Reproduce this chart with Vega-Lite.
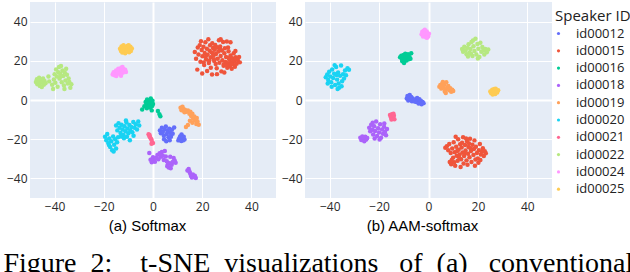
{
"$schema": "https://vega.github.io/schema/vega-lite/v6.json",
"padding": {"left": 3, "top": 2, "right": 0, "bottom": 0},
"background": "#ffffff",
"spacing": 5,
"title": {"text": "Figure\u00a0 2:\u00a0\u00a0\u00a0 t-SNE\u00a0 visualizations\u00a0\u00a0 of\u00a0 (a)\u00a0\u00a0 conventional", "orient": "bottom", "anchor": "start", "font": "Liberation Serif", "fontSize": 28, "fontWeight": "normal", "color": "#000000", "offset": 17, "frame": "bounds", "dx": -3},
"datasets": {
"a": [
{"id":"id00012","x":2.8,"y":-15.5},{"id":"id00012","x":3.2,"y":-17.0},{"id":"id00012","x":3.6,"y":-14.2},{"id":"id00012","x":4.0,"y":-16.3},{"id":"id00012","x":4.4,"y":-18.2},{"id":"id00012","x":4.8,"y":-15.0},{"id":"id00012","x":5.2,"y":-13.5},{"id":"id00012","x":5.6,"y":-17.4},{"id":"id00012","x":6.0,"y":-15.8},{"id":"id00012","x":6.3,"y":-19.0},{"id":"id00012","x":6.6,"y":-14.6},{"id":"id00012","x":7.0,"y":-16.8},{"id":"id00012","x":7.3,"y":-18.8},{"id":"id00012","x":7.7,"y":-15.2},{"id":"id00012","x":8.0,"y":-17.2},{"id":"id00012","x":5.4,"y":-21.0},{"id":"id00012","x":6.8,"y":-20.5},{"id":"id00012","x":8.6,"y":-14.0},{"id":"id00012","x":4.5,"y":-20.0},{"id":"id00012","x":10.6,"y":-19.8},{"id":"id00012","x":11.0,"y":-18.6},{"id":"id00012","x":11.3,"y":-20.4},{"id":"id00012","x":11.6,"y":-17.6},{"id":"id00012","x":11.9,"y":-19.4},{"id":"id00012","x":12.2,"y":-20.6},{"id":"id00012","x":12.5,"y":-18.8},{"id":"id00012","x":12.8,"y":-20.2},{"id":"id00012","x":10.3,"y":-20.6},{"id":"id00012","x":11.5,"y":-20.9},
{"id":"id00015","x":17.0,"y":24.5},{"id":"id00015","x":17.5,"y":21.0},{"id":"id00015","x":18.2,"y":26.8},{"id":"id00015","x":18.5,"y":23.2},{"id":"id00015","x":19.0,"y":28.0},{"id":"id00015","x":19.3,"y":19.5},{"id":"id00015","x":19.8,"y":25.5},{"id":"id00015","x":20.1,"y":22.3},{"id":"id00015","x":20.5,"y":27.2},{"id":"id00015","x":20.8,"y":17.8},{"id":"id00015","x":21.0,"y":24.0},{"id":"id00015","x":21.3,"y":29.5},{"id":"id00015","x":21.6,"y":20.6},{"id":"id00015","x":21.9,"y":26.2},{"id":"id00015","x":22.2,"y":23.1},{"id":"id00015","x":22.5,"y":31.0},{"id":"id00015","x":22.7,"y":18.9},{"id":"id00015","x":23.0,"y":25.1},{"id":"id00015","x":23.2,"y":27.9},{"id":"id00015","x":23.5,"y":21.8},{"id":"id00015","x":23.8,"y":24.3},{"id":"id00015","x":24.0,"y":13.0},{"id":"id00015","x":24.1,"y":29.0},{"id":"id00015","x":24.4,"y":26.5},{"id":"id00015","x":24.6,"y":22.7},{"id":"id00015","x":24.9,"y":19.9},{"id":"id00015","x":25.1,"y":25.6},{"id":"id00015","x":25.3,"y":28.1},{"id":"id00015","x":25.6,"y":23.5},{"id":"id00015","x":25.9,"y":16.2},{"id":"id00015","x":26.1,"y":26.9},{"id":"id00015","x":26.3,"y":21.0},{"id":"id00015","x":26.6,"y":24.7},{"id":"id00015","x":26.8,"y":30.5},{"id":"id00015","x":27.0,"y":19.0},{"id":"id00015","x":27.3,"y":27.3},{"id":"id00015","x":27.5,"y":22.5},{"id":"id00015","x":27.8,"y":14.6},{"id":"id00015","x":28.0,"y":25.2},{"id":"id00015","x":28.2,"y":20.3},{"id":"id00015","x":28.5,"y":29.6},{"id":"id00015","x":28.7,"y":17.5},{"id":"id00015","x":29.0,"y":23.8},{"id":"id00015","x":29.2,"y":26.4},{"id":"id00015","x":29.5,"y":19.4},{"id":"id00015","x":29.7,"y":21.9},{"id":"id00015","x":30.0,"y":29.8},{"id":"id00015","x":30.2,"y":16.4},{"id":"id00015","x":30.4,"y":18.7},{"id":"id00015","x":30.7,"y":24.9},{"id":"id00015","x":31.0,"y":20.5},{"id":"id00015","x":31.2,"y":17.2},{"id":"id00015","x":31.5,"y":22.7},{"id":"id00015","x":31.7,"y":19.0},{"id":"id00015","x":32.0,"y":16.0},{"id":"id00015","x":32.2,"y":21.3},{"id":"id00015","x":32.5,"y":18.2},{"id":"id00015","x":32.8,"y":23.9},{"id":"id00015","x":33.0,"y":19.8},{"id":"id00015","x":33.3,"y":17.0},{"id":"id00015","x":33.6,"y":21.8},{"id":"id00015","x":34.0,"y":18.5},{"id":"id00015","x":34.5,"y":20.4},{"id":"id00015","x":35.0,"y":22.0},{"id":"id00015","x":35.3,"y":19.2},{"id":"id00015","x":20.0,"y":13.5},{"id":"id00015","x":18.0,"y":15.5},{"id":"id00015","x":22.0,"y":14.8},{"id":"id00015","x":26.0,"y":13.2},{"id":"id00015","x":29.0,"y":14.0},{"id":"id00015","x":23.5,"y":16.5},{"id":"id00015","x":27.5,"y":31.0},{"id":"id00015","x":31.5,"y":29.5},{"id":"id00015","x":19.5,"y":30.0},{"id":"id00015","x":24.8,"y":20.8},{"id":"id00015","x":30.5,"y":26.8},{"id":"id00015","x":33.5,"y":25.0},{"id":"id00015","x":21.4,"y":22.0},{"id":"id00015","x":28.8,"y":18.3},{"id":"id00015","x":32.6,"y":20.0},{"id":"id00015","x":31.8,"y":18.3},{"id":"id00015","x":30.9,"y":21.4},{"id":"id00015","x":33.8,"y":20.8},{"id":"id00015","x":29.8,"y":17.8},{"id":"id00015","x":25.5,"y":18.4},{"id":"id00015","x":22.9,"y":20.2},{"id":"id00015","x":27.2,"y":25.9},{"id":"id00015","x":24.3,"y":23.9},{"id":"id00015","x":20.6,"y":19.2},
{"id":"id00016","x":-3.0,"y":-1.0},{"id":"id00016","x":-2.7,"y":-2.8},{"id":"id00016","x":-2.4,"y":0.3},{"id":"id00016","x":-2.1,"y":-1.8},{"id":"id00016","x":-1.8,"y":-3.4},{"id":"id00016","x":-1.5,"y":-0.6},{"id":"id00016","x":-1.2,"y":-2.4},{"id":"id00016","x":-0.9,"y":0.8},{"id":"id00016","x":-0.6,"y":-1.4},{"id":"id00016","x":-0.3,"y":-3.0},{"id":"id00016","x":0.0,"y":-2.0},{"id":"id00016","x":-2.5,"y":-4.2},{"id":"id00016","x":-1.0,"y":-4.0},{"id":"id00016","x":-3.5,"y":-3.2},{"id":"id00016","x":-4.4,"y":-4.8},{"id":"id00016","x":-0.5,"y":-5.3},{"id":"id00016","x":2.0,"y":-5.6},{"id":"id00016","x":2.6,"y":-7.2},{"id":"id00016","x":3.0,"y":-8.3},{"id":"id00016","x":-1.6,"y":-1.2},{"id":"id00016","x":-0.2,"y":-0.4},
{"id":"id00018","x":-1.5,"y":-27.0},{"id":"id00018","x":-1.0,"y":-30.5},{"id":"id00018","x":-0.5,"y":-31.8},{"id":"id00018","x":0.0,"y":-29.2},{"id":"id00018","x":0.3,"y":-30.8},{"id":"id00018","x":0.8,"y":-31.5},{"id":"id00018","x":1.2,"y":-29.6},{"id":"id00018","x":1.8,"y":-28.0},{"id":"id00018","x":2.2,"y":-30.2},{"id":"id00018","x":2.7,"y":-27.2},{"id":"id00018","x":3.2,"y":-29.0},{"id":"id00018","x":3.6,"y":-26.5},{"id":"id00018","x":4.0,"y":-28.4},{"id":"id00018","x":4.4,"y":-30.6},{"id":"id00018","x":4.8,"y":-26.0},{"id":"id00018","x":5.2,"y":-28.8},{"id":"id00018","x":5.6,"y":-31.2},{"id":"id00018","x":6.0,"y":-33.0},{"id":"id00018","x":6.4,"y":-34.4},{"id":"id00018","x":6.8,"y":-32.2},{"id":"id00018","x":7.2,"y":-34.8},{"id":"id00018","x":7.6,"y":-33.0},{"id":"id00018","x":8.0,"y":-31.6},{"id":"id00018","x":8.4,"y":-29.6},{"id":"id00018","x":8.8,"y":-30.8},{"id":"id00018","x":9.2,"y":-32.0},{"id":"id00018","x":7.0,"y":-29.0},{"id":"id00018","x":5.8,"y":-33.8},{"id":"id00018","x":14.0,"y":-36.0},{"id":"id00018","x":14.5,"y":-35.2},{"id":"id00018","x":15.0,"y":-37.2},{"id":"id00018","x":15.4,"y":-38.6},{"id":"id00018","x":15.8,"y":-39.6},{"id":"id00018","x":16.2,"y":-38.0},{"id":"id00018","x":16.6,"y":-39.2},{"id":"id00018","x":17.0,"y":-38.6},{"id":"id00018","x":17.4,"y":-39.8},{"id":"id00018","x":14.8,"y":-36.4},
{"id":"id00019","x":11.2,"y":-4.0},{"id":"id00019","x":11.6,"y":-5.2},{"id":"id00019","x":12.0,"y":-3.5},{"id":"id00019","x":12.3,"y":-4.6},{"id":"id00019","x":12.8,"y":-6.2},{"id":"id00019","x":13.6,"y":-6.0},{"id":"id00019","x":14.2,"y":-5.4},{"id":"id00019","x":14.8,"y":-7.0},{"id":"id00019","x":15.2,"y":-6.0},{"id":"id00019","x":15.5,"y":-8.2},{"id":"id00019","x":16.0,"y":-7.0},{"id":"id00019","x":16.3,"y":-9.6},{"id":"id00019","x":16.8,"y":-8.4},{"id":"id00019","x":17.2,"y":-10.5},{"id":"id00019","x":17.6,"y":-12.2},{"id":"id00019","x":18.1,"y":-11.0},{"id":"id00019","x":18.6,"y":-12.6},{"id":"id00019","x":16.0,"y":-11.6},{"id":"id00019","x":15.0,"y":-10.6},{"id":"id00019","x":14.2,"y":-12.8},{"id":"id00019","x":13.4,"y":-13.8},{"id":"id00019","x":17.8,"y":-9.2},{"id":"id00019","x":13.0,"y":-5.0},
{"id":"id00020","x":-15.0,"y":-13.0},{"id":"id00020","x":-14.5,"y":-15.5},{"id":"id00020","x":-14.0,"y":-11.8},{"id":"id00020","x":-13.6,"y":-14.2},{"id":"id00020","x":-13.2,"y":-16.8},{"id":"id00020","x":-12.8,"y":-12.6},{"id":"id00020","x":-12.4,"y":-15.0},{"id":"id00020","x":-12.0,"y":-17.8},{"id":"id00020","x":-11.6,"y":-13.4},{"id":"id00020","x":-11.2,"y":-16.0},{"id":"id00020","x":-10.8,"y":-11.5},{"id":"id00020","x":-10.4,"y":-14.6},{"id":"id00020","x":-10.0,"y":-17.0},{"id":"id00020","x":-9.6,"y":-12.8},{"id":"id00020","x":-9.2,"y":-15.6},{"id":"id00020","x":-8.8,"y":-13.8},{"id":"id00020","x":-8.4,"y":-16.4},{"id":"id00020","x":-8.0,"y":-11.2},{"id":"id00020","x":-7.5,"y":-14.2},{"id":"id00020","x":-7.0,"y":-12.4},{"id":"id00020","x":-6.5,"y":-15.0},{"id":"id00020","x":-6.0,"y":-11.0},{"id":"id00020","x":-5.6,"y":-13.0},{"id":"id00020","x":-11.8,"y":-19.5},{"id":"id00020","x":-9.4,"y":-20.5},{"id":"id00020","x":-13.0,"y":-18.6},{"id":"id00020","x":-10.6,"y":-18.8},{"id":"id00020","x":-7.9,"y":-18.2},{"id":"id00020","x":-11.0,"y":-10.4},{"id":"id00020","x":-19.5,"y":-18.8},{"id":"id00020","x":-19.0,"y":-20.5},{"id":"id00020","x":-18.6,"y":-17.4},{"id":"id00020","x":-18.2,"y":-22.0},{"id":"id00020","x":-17.8,"y":-19.6},{"id":"id00020","x":-17.4,"y":-24.0},{"id":"id00020","x":-17.0,"y":-21.0},{"id":"id00020","x":-16.6,"y":-25.6},{"id":"id00020","x":-16.2,"y":-18.6},{"id":"id00020","x":-15.8,"y":-22.8},{"id":"id00020","x":-15.4,"y":-20.0},{"id":"id00020","x":-15.0,"y":-24.8},{"id":"id00020","x":-14.6,"y":-21.6},{"id":"id00020","x":-16.0,"y":-26.3},{"id":"id00020","x":-17.9,"y":-23.0},{"id":"id00020","x":-14.2,"y":-19.0},
{"id":"id00021","x":-1.8,"y":-17.5},{"id":"id00021","x":-1.5,"y":-18.3},{"id":"id00021","x":-1.2,"y":-19.0},{"id":"id00021","x":-0.9,"y":-19.7},{"id":"id00021","x":-0.6,"y":-20.3},{"id":"id00021","x":-0.3,"y":-21.5},{"id":"id00021","x":0.0,"y":-22.0},{"id":"id00021","x":-0.6,"y":-22.3},{"id":"id00021","x":-1.4,"y":-17.8},
{"id":"id00022","x":-47.6,"y":9.2},{"id":"id00022","x":-47.2,"y":10.6},{"id":"id00022","x":-47.0,"y":8.0},{"id":"id00022","x":-46.6,"y":9.6},{"id":"id00022","x":-46.3,"y":11.3},{"id":"id00022","x":-46.0,"y":7.2},{"id":"id00022","x":-45.7,"y":8.8},{"id":"id00022","x":-45.4,"y":10.2},{"id":"id00022","x":-45.0,"y":9.0},{"id":"id00022","x":-44.7,"y":11.0},{"id":"id00022","x":-44.4,"y":7.8},{"id":"id00022","x":-44.1,"y":9.7},{"id":"id00022","x":-43.7,"y":8.6},{"id":"id00022","x":-45.2,"y":6.6},{"id":"id00022","x":-46.8,"y":10.0},{"id":"id00022","x":-41.0,"y":7.8},{"id":"id00022","x":-40.6,"y":5.6},{"id":"id00022","x":-40.3,"y":10.5},{"id":"id00022","x":-40.0,"y":13.2},{"id":"id00022","x":-39.7,"y":8.8},{"id":"id00022","x":-39.4,"y":15.6},{"id":"id00022","x":-39.1,"y":12.0},{"id":"id00022","x":-38.8,"y":6.8},{"id":"id00022","x":-38.5,"y":14.2},{"id":"id00022","x":-38.2,"y":16.8},{"id":"id00022","x":-38.0,"y":10.9},{"id":"id00022","x":-37.7,"y":13.4},{"id":"id00022","x":-37.4,"y":17.4},{"id":"id00022","x":-37.1,"y":9.0},{"id":"id00022","x":-36.8,"y":15.0},{"id":"id00022","x":-36.5,"y":12.2},{"id":"id00022","x":-36.2,"y":7.4},{"id":"id00022","x":-35.9,"y":14.1},{"id":"id00022","x":-35.6,"y":10.0},{"id":"id00022","x":-35.3,"y":16.0},{"id":"id00022","x":-35.0,"y":12.9},{"id":"id00022","x":-34.6,"y":8.4},{"id":"id00022","x":-34.3,"y":11.0},{"id":"id00022","x":-34.0,"y":9.2},{"id":"id00022","x":-33.6,"y":6.2},{"id":"id00022","x":-33.2,"y":8.0},{"id":"id00022","x":-42.2,"y":9.5},{"id":"id00022","x":-42.5,"y":12.0},{"id":"id00022","x":-37.9,"y":11.6},{"id":"id00022","x":-36.0,"y":5.6},
{"id":"id00024","x":-16.4,"y":13.0},{"id":"id00024","x":-16.0,"y":14.2},{"id":"id00024","x":-15.6,"y":12.6},{"id":"id00024","x":-15.3,"y":13.8},{"id":"id00024","x":-15.0,"y":15.0},{"id":"id00024","x":-14.7,"y":13.2},{"id":"id00024","x":-14.4,"y":14.6},{"id":"id00024","x":-14.1,"y":16.0},{"id":"id00024","x":-13.8,"y":13.6},{"id":"id00024","x":-13.5,"y":15.3},{"id":"id00024","x":-13.2,"y":14.1},{"id":"id00024","x":-12.9,"y":16.4},{"id":"id00024","x":-12.6,"y":15.0},{"id":"id00024","x":-12.3,"y":13.9},{"id":"id00024","x":-12.0,"y":15.8},{"id":"id00024","x":-11.7,"y":14.6},{"id":"id00024","x":-11.3,"y":15.4},{"id":"id00024","x":-11.0,"y":14.3},{"id":"id00024","x":-13.0,"y":12.4},{"id":"id00024","x":-14.9,"y":12.3},{"id":"id00024","x":-12.4,"y":16.8},
{"id":"id00025","x":-13.4,"y":26.2},{"id":"id00025","x":-13.0,"y":25.0},{"id":"id00025","x":-12.8,"y":27.3},{"id":"id00025","x":-12.5,"y":24.2},{"id":"id00025","x":-12.2,"y":26.0},{"id":"id00025","x":-12.0,"y":28.0},{"id":"id00025","x":-11.8,"y":25.3},{"id":"id00025","x":-11.5,"y":27.0},{"id":"id00025","x":-11.3,"y":23.8},{"id":"id00025","x":-11.0,"y":26.4},{"id":"id00025","x":-10.8,"y":24.8},{"id":"id00025","x":-10.5,"y":27.6},{"id":"id00025","x":-10.3,"y":25.7},{"id":"id00025","x":-10.0,"y":26.8},{"id":"id00025","x":-9.7,"y":24.4},{"id":"id00025","x":-9.5,"y":25.9},{"id":"id00025","x":-9.2,"y":27.2},{"id":"id00025","x":-9.0,"y":25.0},{"id":"id00025","x":-8.6,"y":26.3},{"id":"id00025","x":-11.9,"y":26.9},{"id":"id00025","x":-10.6,"y":25.2},{"id":"id00025","x":-12.3,"y":25.5},{"id":"id00025","x":-9.9,"y":27.9}
],
"b": [
{"id":"id00012","x":-8.8,"y":0.8},{"id":"id00012","x":-8.5,"y":2.0},{"id":"id00012","x":-8.2,"y":-0.2},{"id":"id00012","x":-7.9,"y":1.4},{"id":"id00012","x":-7.6,"y":2.6},{"id":"id00012","x":-7.3,"y":0.4},{"id":"id00012","x":-7.0,"y":1.6},{"id":"id00012","x":-6.7,"y":-0.6},{"id":"id00012","x":-6.4,"y":0.8},{"id":"id00012","x":-5.2,"y":0.2},{"id":"id00012","x":-4.9,"y":-1.0},{"id":"id00012","x":-4.6,"y":1.0},{"id":"id00012","x":-4.3,"y":-0.2},{"id":"id00012","x":-4.0,"y":-1.8},{"id":"id00012","x":-3.7,"y":0.4},{"id":"id00012","x":-3.4,"y":-1.2},{"id":"id00012","x":-3.1,"y":-0.4},{"id":"id00012","x":-2.8,"y":-2.2},{"id":"id00012","x":-2.4,"y":-1.0},{"id":"id00012","x":-2.0,"y":-1.6},{"id":"id00012","x":-5.6,"y":-0.8},{"id":"id00012","x":-6.0,"y":0.0},
{"id":"id00015","x":6.8,"y":-24.4},{"id":"id00015","x":7.4,"y":-23.6},{"id":"id00015","x":8.0,"y":-25.6},{"id":"id00015","x":8.4,"y":-22.4},{"id":"id00015","x":8.6,"y":-31.6},{"id":"id00015","x":9.0,"y":-27.0},{"id":"id00015","x":9.2,"y":-32.8},{"id":"id00015","x":9.6,"y":-24.8},{"id":"id00015","x":10.0,"y":-29.4},{"id":"id00015","x":10.2,"y":-21.6},{"id":"id00015","x":10.6,"y":-26.6},{"id":"id00015","x":10.8,"y":-33.6},{"id":"id00015","x":11.2,"y":-23.8},{"id":"id00015","x":11.4,"y":-28.4},{"id":"id00015","x":11.8,"y":-31.0},{"id":"id00015","x":12.0,"y":-20.0},{"id":"id00015","x":12.2,"y":-25.4},{"id":"id00015","x":12.6,"y":-27.8},{"id":"id00015","x":12.8,"y":-22.6},{"id":"id00015","x":13.2,"y":-30.2},{"id":"id00015","x":13.4,"y":-24.2},{"id":"id00015","x":13.8,"y":-26.8},{"id":"id00015","x":14.0,"y":-19.0},{"id":"id00015","x":14.2,"y":-32.4},{"id":"id00015","x":14.4,"y":-28.6},{"id":"id00015","x":14.8,"y":-23.0},{"id":"id00015","x":15.0,"y":-25.8},{"id":"id00015","x":15.4,"y":-30.8},{"id":"id00015","x":15.6,"y":-21.0},{"id":"id00015","x":16.0,"y":-27.4},{"id":"id00015","x":16.2,"y":-24.0},{"id":"id00015","x":16.6,"y":-29.2},{"id":"id00015","x":16.8,"y":-19.8},{"id":"id00015","x":17.2,"y":-26.0},{"id":"id00015","x":17.4,"y":-31.6},{"id":"id00015","x":17.8,"y":-22.8},{"id":"id00015","x":18.2,"y":-28.0},{"id":"id00015","x":18.4,"y":-25.0},{"id":"id00015","x":18.8,"y":-33.6},{"id":"id00015","x":19.2,"y":-23.8},{"id":"id00015","x":19.6,"y":-27.0},{"id":"id00015","x":20.0,"y":-29.8},{"id":"id00015","x":20.4,"y":-25.6},{"id":"id00015","x":20.8,"y":-22.4},{"id":"id00015","x":21.2,"y":-27.8},{"id":"id00015","x":21.6,"y":-26.4},{"id":"id00015","x":22.0,"y":-24.6},{"id":"id00015","x":22.4,"y":-28.6},{"id":"id00015","x":22.8,"y":-26.2},{"id":"id00015","x":23.2,"y":-27.2},{"id":"id00015","x":11.0,"y":-18.8},{"id":"id00015","x":13.0,"y":-34.2},{"id":"id00015","x":15.8,"y":-33.0},{"id":"id00015","x":12.4,"y":-29.4},{"id":"id00015","x":14.6,"y":-27.2},{"id":"id00015","x":16.4,"y":-22.2},{"id":"id00015","x":10.4,"y":-31.8},{"id":"id00015","x":9.4,"y":-30.6},{"id":"id00015","x":17.0,"y":-24.6},{"id":"id00015","x":19.0,"y":-30.4},{"id":"id00015","x":21.0,"y":-30.6},{"id":"id00015","x":13.6,"y":-21.8},{"id":"id00015","x":15.2,"y":-19.6},{"id":"id00015","x":11.6,"y":-26.0},{"id":"id00015","x":18.6,"y":-20.6},{"id":"id00015","x":20.2,"y":-32.0},
{"id":"id00016","x":-11.5,"y":21.8},{"id":"id00016","x":-11.0,"y":22.6},{"id":"id00016","x":-10.7,"y":20.6},{"id":"id00016","x":-10.4,"y":21.6},{"id":"id00016","x":-10.1,"y":23.0},{"id":"id00016","x":-9.8,"y":19.6},{"id":"id00016","x":-9.5,"y":21.2},{"id":"id00016","x":-9.2,"y":22.4},{"id":"id00016","x":-8.9,"y":20.2},{"id":"id00016","x":-8.6,"y":21.6},{"id":"id00016","x":-8.3,"y":23.4},{"id":"id00016","x":-8.0,"y":20.8},{"id":"id00016","x":-7.7,"y":22.0},{"id":"id00016","x":-7.3,"y":21.0},{"id":"id00016","x":-7.0,"y":23.8},{"id":"id00016","x":-9.9,"y":18.9},{"id":"id00016","x":-9.4,"y":23.6},{"id":"id00016","x":-10.6,"y":19.8},
{"id":"id00018","x":-24.0,"y":-14.2},{"id":"id00018","x":-23.6,"y":-16.0},{"id":"id00018","x":-23.2,"y":-12.6},{"id":"id00018","x":-22.8,"y":-15.2},{"id":"id00018","x":-22.4,"y":-17.6},{"id":"id00018","x":-22.0,"y":-13.4},{"id":"id00018","x":-21.6,"y":-15.8},{"id":"id00018","x":-21.2,"y":-11.0},{"id":"id00018","x":-20.8,"y":-18.4},{"id":"id00018","x":-20.4,"y":-14.4},{"id":"id00018","x":-20.0,"y":-16.6},{"id":"id00018","x":-19.6,"y":-12.4},{"id":"id00018","x":-19.2,"y":-19.2},{"id":"id00018","x":-18.8,"y":-15.0},{"id":"id00018","x":-18.4,"y":-17.2},{"id":"id00018","x":-18.0,"y":-13.6},{"id":"id00018","x":-17.6,"y":-16.2},{"id":"id00018","x":-17.2,"y":-18.0},{"id":"id00018","x":-16.8,"y":-14.8},{"id":"id00018","x":-21.8,"y":-19.6},{"id":"id00018","x":-19.8,"y":-20.2},{"id":"id00018","x":-22.6,"y":-11.6},{"id":"id00018","x":-17.9,"y":-12.0},{"id":"id00018","x":-27.6,"y":-19.2},{"id":"id00018","x":-27.2,"y":-20.4},{"id":"id00018","x":-26.8,"y":-18.6},{"id":"id00018","x":-26.4,"y":-19.8},{"id":"id00018","x":-26.0,"y":-21.0},{"id":"id00018","x":-25.6,"y":-18.8},{"id":"id00018","x":-25.2,"y":-20.2},{"id":"id00018","x":-24.8,"y":-19.4},
{"id":"id00019","x":4.4,"y":6.8},{"id":"id00019","x":4.8,"y":7.6},{"id":"id00019","x":5.2,"y":5.8},{"id":"id00019","x":5.6,"y":8.4},{"id":"id00019","x":6.0,"y":6.6},{"id":"id00019","x":6.4,"y":7.8},{"id":"id00019","x":6.8,"y":5.4},{"id":"id00019","x":7.2,"y":9.0},{"id":"id00019","x":7.6,"y":6.2},{"id":"id00019","x":8.0,"y":7.2},{"id":"id00019","x":8.4,"y":5.0},{"id":"id00019","x":8.8,"y":6.0},{"id":"id00019","x":9.2,"y":4.2},{"id":"id00019","x":9.6,"y":5.2},{"id":"id00019","x":10.0,"y":4.6},{"id":"id00019","x":7.0,"y":3.6},{"id":"id00019","x":5.8,"y":9.2},{"id":"id00019","x":6.6,"y":4.4},
{"id":"id00020","x":-41.6,"y":11.6},{"id":"id00020","x":-41.0,"y":13.0},{"id":"id00020","x":-40.6,"y":10.2},{"id":"id00020","x":-40.2,"y":14.4},{"id":"id00020","x":-39.8,"y":12.0},{"id":"id00020","x":-39.4,"y":9.0},{"id":"id00020","x":-39.0,"y":15.6},{"id":"id00020","x":-38.6,"y":11.2},{"id":"id00020","x":-38.2,"y":13.4},{"id":"id00020","x":-37.8,"y":7.6},{"id":"id00020","x":-37.4,"y":16.8},{"id":"id00020","x":-37.0,"y":10.4},{"id":"id00020","x":-36.6,"y":14.0},{"id":"id00020","x":-36.2,"y":6.2},{"id":"id00020","x":-35.8,"y":12.4},{"id":"id00020","x":-35.4,"y":17.6},{"id":"id00020","x":-35.0,"y":9.6},{"id":"id00020","x":-34.6,"y":13.2},{"id":"id00020","x":-34.2,"y":11.0},{"id":"id00020","x":-33.8,"y":15.0},{"id":"id00020","x":-33.4,"y":12.6},{"id":"id00020","x":-32.8,"y":16.2},{"id":"id00020","x":-32.2,"y":15.4},{"id":"id00020","x":-36.4,"y":8.4},{"id":"id00020","x":-38.0,"y":17.8},{"id":"id00020","x":-36.8,"y":5.6},{"id":"id00020","x":-39.2,"y":6.8},{"id":"id00020","x":-40.8,"y":8.4},{"id":"id00020","x":-35.2,"y":7.0},{"id":"id00020","x":-37.2,"y":12.8},
{"id":"id00021","x":-15.6,"y":-7.6},{"id":"id00021","x":-15.2,"y":-8.8},{"id":"id00021","x":-14.8,"y":-7.2},{"id":"id00021","x":-14.4,"y":-9.4},{"id":"id00021","x":-14.0,"y":-8.0},{"id":"id00021","x":-13.8,"y":-9.8},{"id":"id00021","x":-15.0,"y":-10.0},{"id":"id00021","x":-14.2,"y":-7.0},
{"id":"id00022","x":13.6,"y":26.0},{"id":"id00022","x":14.0,"y":24.6},{"id":"id00022","x":14.5,"y":27.2},{"id":"id00022","x":15.0,"y":25.2},{"id":"id00022","x":15.4,"y":23.4},{"id":"id00022","x":15.8,"y":26.6},{"id":"id00022","x":16.2,"y":28.4},{"id":"id00022","x":16.6,"y":24.2},{"id":"id00022","x":17.0,"y":26.0},{"id":"id00022","x":17.4,"y":29.6},{"id":"id00022","x":17.8,"y":22.4},{"id":"id00022","x":18.2,"y":27.4},{"id":"id00022","x":18.6,"y":25.0},{"id":"id00022","x":19.0,"y":31.2},{"id":"id00022","x":19.4,"y":23.2},{"id":"id00022","x":19.8,"y":28.6},{"id":"id00022","x":20.2,"y":26.2},{"id":"id00022","x":20.6,"y":22.0},{"id":"id00022","x":21.0,"y":29.2},{"id":"id00022","x":21.4,"y":24.6},{"id":"id00022","x":21.8,"y":27.0},{"id":"id00022","x":22.2,"y":25.4},{"id":"id00022","x":22.6,"y":23.2},{"id":"id00022","x":23.0,"y":26.0},{"id":"id00022","x":23.6,"y":24.4},{"id":"id00022","x":24.2,"y":25.8},{"id":"id00022","x":18.0,"y":30.4},{"id":"id00022","x":20.0,"y":21.2},{"id":"id00022","x":16.0,"y":22.2},{"id":"id00022","x":17.2,"y":23.6},
{"id":"id00024","x":-2.8,"y":33.6},{"id":"id00024","x":-2.5,"y":34.8},{"id":"id00024","x":-2.2,"y":32.4},{"id":"id00024","x":-1.9,"y":35.4},{"id":"id00024","x":-1.6,"y":33.2},{"id":"id00024","x":-1.3,"y":34.4},{"id":"id00024","x":-1.0,"y":32.0},{"id":"id00024","x":-0.7,"y":35.0},{"id":"id00024","x":-0.4,"y":33.6},{"id":"id00024","x":-0.1,"y":32.4},{"id":"id00024","x":0.2,"y":33.8},{"id":"id00024","x":-1.5,"y":35.8},{"id":"id00024","x":-2.0,"y":33.8},{"id":"id00024","x":-0.6,"y":31.8},
{"id":"id00025","x":25.0,"y":4.4},{"id":"id00025","x":25.4,"y":3.4},{"id":"id00025","x":25.8,"y":5.2},{"id":"id00025","x":26.2,"y":4.0},{"id":"id00025","x":26.6,"y":5.6},{"id":"id00025","x":27.0,"y":3.0},{"id":"id00025","x":27.4,"y":4.6},{"id":"id00025","x":27.8,"y":3.8},{"id":"id00025","x":28.2,"y":5.0},{"id":"id00025","x":26.0,"y":2.8},{"id":"id00025","x":27.2,"y":5.8},{"id":"id00025","x":26.6,"y":4.2}
]
},
"hconcat": [
{
"data": {"name": "a"},
"width": 246, "height": 196,
"mark": {"type": "point", "filled": true, "size": 20, "opacity": 1},
"encoding": {
"x": {"field": "x", "type": "quantitative", "scale": {"domain": [-50, 50], "nice": false},
"axis": {"title": "(a) Softmax", "values": [-40, -20, 0, 20, 40], "gridWidth": {"condition": {"test": "datum.value === 0", "value": 2}, "value": 1}}},
"y": {"field": "y", "type": "quantitative", "scale": {"domain": [-50, 50], "nice": false},
"axis": {"title": null, "values": [-40, -20, 0, 20, 40], "gridWidth": {"condition": {"test": "datum.value === 0", "value": 2}, "value": 1}}},
"color": {"field": "id", "type": "nominal", "title": "Speaker ID",
"scale": {"domain": ["id00012","id00015","id00016","id00018","id00019","id00020","id00021","id00022","id00024","id00025"],
"range": ["#636EFA","#EF553B","#00CC96","#AB63FA","#FFA15A","#19D3F3","#FF6692","#B6E880","#FF97FF","#FECB52"]}}
}
},
{
"data": {"name": "b"},
"width": 247, "height": 196,
"mark": {"type": "point", "filled": true, "size": 20, "opacity": 1},
"encoding": {
"x": {"field": "x", "type": "quantitative", "scale": {"domain": [-50, 50], "nice": false},
"axis": {"title": "(b) AAM-softmax", "values": [-40, -20, 0, 20, 40], "gridWidth": {"condition": {"test": "datum.value === 0", "value": 2}, "value": 1}}},
"y": {"field": "y", "type": "quantitative", "scale": {"domain": [-50, 50], "nice": false},
"axis": {"title": null, "values": [-40, -20, 0, 20, 40], "gridWidth": {"condition": {"test": "datum.value === 0", "value": 2}, "value": 1}}},
"color": {"field": "id", "type": "nominal", "title": "Speaker ID",
"scale": {"domain": ["id00012","id00015","id00016","id00018","id00019","id00020","id00021","id00022","id00024","id00025"],
"range": ["#636EFA","#EF553B","#00CC96","#AB63FA","#FFA15A","#19D3F3","#FF6692","#B6E880","#FF97FF","#FECB52"]}}
}
}
],
"config": {
"view": {"fill": "#E5ECF6", "stroke": null},
"axis": {"domain": false, "ticks": false, "gridColor": "#ffffff", "labelFont": "Open Sans", "labelFontSize": 12, "labelColor": "#2a2a2a", "labelPadding": 3,
"titleFont": "Liberation Sans", "titleFontSize": 15, "titleFontWeight": "normal", "titleColor": "#000000", "titlePadding": 6},
"axisX": {"titleX": 117},
"legend": {"titleFont": "Open Sans", "titleFontSize": 15, "titleFontWeight": "normal", "titleColor": "#222222",
"labelFont": "Open Sans", "labelFontSize": 13, "labelColor": "#222222", "symbolType": "circle", "symbolSize": 10,
"rowPadding": 3.3, "titlePadding": 3, "padding": 7, "offset": -4, "symbolOffset": -3, "labelOffset": 11}
}
}
